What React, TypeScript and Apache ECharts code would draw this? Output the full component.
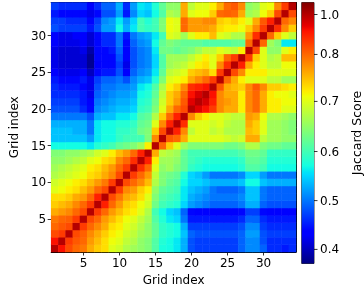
import React, { useEffect, useRef } from "react";
import * as echarts from "echarts";

const gridIndex = ["1","2","3","4","5","6","7","8","9","10","11","12","13","14","15","16","17","18","19","20","21","22","23","24","25","26","27","28","29","30","31","32","33","34"];
const shownTicks = ["5", "10", "15", "20", "25", "30"];
const colorbarTicks = [0.4, 0.5, 0.6, 0.7, 0.8, 1.0];
// colour normalisation (value -> position on bar)
const normValues = [0.371, 0.4, 0.5, 0.6, 0.7, 0.8, 1.0, 1.06];
const normPositions = [0, 0.054, 0.241, 0.429, 0.621, 0.801, 0.954, 1];

// rN = grid row N (bottom = 1), columns 1..34
const r1 = [1.0,0.92,0.84,0.80,0.79,0.76,0.74,0.73,0.70,0.69,0.67,0.66,0.65,0.64,0.61,0.575,0.57,0.56,0.53,0.48,0.47,0.47,0.47,0.47,0.47,0.47,0.49,0.51,0.51,0.49,0.46,0.46,0.45,0.46];
const r2 = [0.92,1.0,0.86,0.82,0.80,0.77,0.75,0.73,0.71,0.70,0.68,0.67,0.65,0.64,0.61,0.58,0.57,0.56,0.53,0.48,0.47,0.47,0.47,0.47,0.47,0.47,0.49,0.51,0.51,0.48,0.46,0.46,0.46,0.46];
const r3 = [0.84,0.86,1.0,0.84,0.81,0.78,0.76,0.74,0.72,0.71,0.69,0.68,0.66,0.65,0.62,0.59,0.58,0.57,0.54,0.49,0.48,0.48,0.48,0.48,0.48,0.48,0.49,0.52,0.52,0.48,0.47,0.47,0.47,0.47];
const r4 = [0.80,0.82,0.84,1.0,0.86,0.80,0.78,0.76,0.73,0.72,0.70,0.69,0.67,0.65,0.62,0.59,0.58,0.57,0.53,0.47,0.47,0.47,0.47,0.47,0.47,0.47,0.48,0.51,0.51,0.47,0.46,0.46,0.46,0.46];
const r5 = [0.79,0.80,0.81,0.86,1.0,0.84,0.80,0.77,0.75,0.73,0.71,0.70,0.68,0.66,0.61,0.58,0.56,0.55,0.50,0.45,0.45,0.45,0.45,0.45,0.45,0.45,0.46,0.49,0.49,0.46,0.45,0.45,0.45,0.45];
const r6 = [0.76,0.77,0.78,0.80,0.84,1.0,0.86,0.80,0.77,0.75,0.73,0.72,0.70,0.67,0.60,0.57,0.55,0.54,0.49,0.44,0.435,0.435,0.435,0.435,0.435,0.435,0.44,0.47,0.47,0.44,0.435,0.435,0.435,0.435];
const r7 = [0.74,0.75,0.76,0.78,0.80,0.86,1.0,0.90,0.80,0.77,0.74,0.73,0.71,0.69,0.63,0.60,0.59,0.58,0.55,0.52,0.51,0.50,0.49,0.49,0.49,0.49,0.50,0.53,0.53,0.49,0.48,0.48,0.48,0.48];
const r8 = [0.73,0.73,0.74,0.76,0.77,0.80,0.90,1.0,0.84,0.79,0.76,0.75,0.73,0.70,0.64,0.61,0.60,0.59,0.56,0.53,0.52,0.51,0.50,0.50,0.50,0.50,0.51,0.54,0.54,0.50,0.49,0.49,0.49,0.49];
const r9 = [0.70,0.71,0.72,0.73,0.75,0.77,0.80,0.84,1.0,0.86,0.78,0.77,0.74,0.72,0.65,0.62,0.61,0.60,0.56,0.54,0.53,0.52,0.50,0.49,0.49,0.49,0.50,0.54,0.54,0.50,0.49,0.49,0.49,0.49];
const r10 = [0.69,0.70,0.71,0.72,0.73,0.75,0.77,0.79,0.86,1.0,0.84,0.80,0.78,0.75,0.67,0.64,0.62,0.61,0.57,0.55,0.55,0.54,0.53,0.53,0.53,0.53,0.54,0.57,0.57,0.54,0.53,0.53,0.53,0.53];
const r11 = [0.67,0.68,0.69,0.70,0.71,0.73,0.74,0.76,0.78,0.84,1.0,0.86,0.80,0.77,0.68,0.64,0.63,0.62,0.58,0.55,0.54,0.52,0.50,0.50,0.50,0.50,0.51,0.55,0.55,0.52,0.50,0.50,0.50,0.50];
const r12 = [0.66,0.67,0.68,0.69,0.70,0.72,0.73,0.75,0.77,0.80,0.86,1.0,0.88,0.80,0.70,0.65,0.66,0.64,0.62,0.59,0.58,0.57,0.57,0.57,0.57,0.57,0.58,0.61,0.61,0.60,0.57,0.57,0.57,0.57];
const r13 = [0.65,0.65,0.66,0.67,0.68,0.70,0.71,0.73,0.74,0.78,0.80,0.88,1.0,0.90,0.72,0.66,0.66,0.65,0.62,0.60,0.59,0.58,0.58,0.58,0.58,0.58,0.59,0.62,0.62,0.61,0.58,0.58,0.58,0.58];
const r14 = [0.64,0.64,0.65,0.65,0.66,0.67,0.69,0.70,0.72,0.75,0.77,0.80,0.90,1.0,0.76,0.68,0.67,0.66,0.62,0.60,0.60,0.60,0.60,0.60,0.60,0.60,0.61,0.63,0.63,0.62,0.59,0.59,0.59,0.59];
const r15 = [0.57,0.57,0.57,0.57,0.57,0.56,0.58,0.59,0.60,0.62,0.63,0.64,0.66,0.72,1.0,0.80,0.74,0.70,0.66,0.64,0.64,0.64,0.64,0.64,0.63,0.63,0.64,0.67,0.67,0.64,0.63,0.63,0.62,0.62];
const r16 = [0.54,0.54,0.54,0.54,0.54,0.52,0.56,0.57,0.57,0.59,0.60,0.60,0.60,0.64,0.78,1.0,0.82,0.80,0.76,0.70,0.70,0.70,0.70,0.70,0.69,0.68,0.69,0.76,0.76,0.68,0.66,0.66,0.65,0.65];
const r17 = [0.54,0.54,0.54,0.53,0.53,0.50,0.56,0.57,0.57,0.59,0.59,0.60,0.63,0.64,0.74,0.84,1.0,0.90,0.78,0.68,0.70,0.70,0.68,0.69,0.67,0.67,0.67,0.75,0.74,0.70,0.66,0.66,0.65,0.64];
const r18 = [0.53,0.53,0.53,0.53,0.53,0.50,0.56,0.57,0.57,0.58,0.58,0.59,0.62,0.63,0.70,0.78,0.90,1.0,0.88,0.70,0.70,0.70,0.69,0.70,0.68,0.67,0.67,0.76,0.74,0.70,0.66,0.66,0.65,0.64];
const r19 = [0.50,0.50,0.50,0.50,0.50,0.48,0.53,0.54,0.54,0.56,0.56,0.57,0.61,0.62,0.67,0.74,0.80,0.90,1.0,0.78,0.74,0.72,0.70,0.70,0.69,0.68,0.68,0.77,0.76,0.71,0.67,0.67,0.66,0.65];
const r20 = [0.48,0.48,0.48,0.48,0.46,0.44,0.51,0.52,0.53,0.54,0.54,0.55,0.59,0.60,0.64,0.70,0.76,0.80,0.84,1.0,0.95,0.92,0.86,0.78,0.76,0.76,0.72,0.78,0.80,0.76,0.72,0.72,0.70,0.70];
const r21 = [0.47,0.47,0.47,0.47,0.45,0.43,0.50,0.51,0.52,0.53,0.53,0.54,0.58,0.59,0.63,0.69,0.74,0.77,0.82,0.95,1.0,0.96,0.90,0.78,0.77,0.76,0.72,0.78,0.80,0.76,0.72,0.72,0.71,0.71];
const r22 = [0.46,0.46,0.46,0.46,0.45,0.42,0.49,0.50,0.51,0.52,0.52,0.53,0.57,0.58,0.62,0.68,0.74,0.76,0.80,0.92,0.96,1.0,0.92,0.78,0.76,0.76,0.72,0.78,0.80,0.76,0.72,0.71,0.71,0.70];
const r23 = [0.46,0.45,0.45,0.45,0.44,0.42,0.48,0.50,0.50,0.51,0.51,0.52,0.56,0.57,0.61,0.67,0.72,0.74,0.78,0.88,0.90,0.92,1.0,0.82,0.76,0.75,0.74,0.78,0.82,0.78,0.74,0.74,0.73,0.72];
const r24 = [0.45,0.44,0.44,0.44,0.45,0.42,0.47,0.49,0.49,0.50,0.48,0.51,0.53,0.54,0.58,0.64,0.70,0.71,0.72,0.76,0.78,0.80,0.86,1.0,0.80,0.76,0.72,0.70,0.70,0.70,0.68,0.68,0.66,0.66];
const r25 = [0.43,0.42,0.42,0.42,0.43,0.40,0.44,0.45,0.45,0.48,0.43,0.49,0.51,0.52,0.56,0.62,0.68,0.69,0.70,0.74,0.75,0.76,0.73,0.86,1.0,0.84,0.78,0.72,0.72,0.72,0.70,0.70,0.70,0.70];
const r26 = [0.42,0.41,0.41,0.41,0.41,0.38,0.43,0.44,0.44,0.47,0.42,0.48,0.50,0.51,0.55,0.61,0.66,0.67,0.68,0.70,0.72,0.73,0.70,0.78,0.88,1.0,0.90,0.76,0.72,0.70,0.68,0.68,0.71,0.71];
const r27 = [0.42,0.41,0.41,0.41,0.41,0.38,0.44,0.44,0.44,0.48,0.43,0.48,0.50,0.51,0.55,0.61,0.66,0.66,0.66,0.68,0.70,0.72,0.70,0.74,0.80,0.86,1.0,0.86,0.74,0.70,0.67,0.68,0.75,0.75];
const r28 = [0.42,0.41,0.41,0.41,0.42,0.39,0.44,0.44,0.45,0.49,0.43,0.48,0.50,0.51,0.56,0.63,0.63,0.62,0.63,0.64,0.66,0.68,0.68,0.70,0.69,0.68,0.72,1.0,0.84,0.70,0.65,0.65,0.70,0.72];
const r29 = [0.43,0.42,0.42,0.42,0.43,0.41,0.44,0.46,0.46,0.50,0.44,0.49,0.51,0.52,0.57,0.62,0.64,0.63,0.62,0.62,0.62,0.61,0.61,0.61,0.61,0.62,0.62,0.80,1.0,0.80,0.66,0.64,0.56,0.56];
const r30 = [0.43,0.42,0.42,0.43,0.43,0.41,0.44,0.46,0.46,0.50,0.45,0.50,0.52,0.53,0.56,0.60,0.70,0.69,0.66,0.70,0.72,0.72,0.75,0.70,0.69,0.67,0.67,0.77,0.88,1.0,0.80,0.74,0.70,0.68];
const r31 = [0.48,0.47,0.47,0.47,0.47,0.45,0.48,0.52,0.52,0.57,0.53,0.56,0.60,0.59,0.60,0.64,0.71,0.70,0.80,0.77,0.77,0.77,0.76,0.73,0.72,0.72,0.71,0.74,0.78,0.86,1.0,0.88,0.78,0.74];
const r32 = [0.47,0.47,0.46,0.46,0.46,0.44,0.47,0.51,0.52,0.56,0.52,0.55,0.60,0.58,0.60,0.64,0.71,0.70,0.80,0.77,0.77,0.78,0.78,0.74,0.73,0.74,0.72,0.70,0.76,0.82,0.90,1.0,0.80,0.78];
const r33 = [0.45,0.44,0.44,0.44,0.44,0.42,0.44,0.48,0.48,0.52,0.45,0.51,0.55,0.54,0.57,0.61,0.67,0.66,0.76,0.70,0.71,0.71,0.74,0.80,0.81,0.80,0.76,0.66,0.67,0.71,0.74,0.84,1.0,0.84];
const r34 = [0.47,0.46,0.46,0.46,0.46,0.43,0.46,0.49,0.49,0.53,0.46,0.52,0.56,0.55,0.58,0.62,0.65,0.65,0.76,0.68,0.70,0.70,0.72,0.76,0.80,0.82,0.78,0.65,0.66,0.70,0.71,0.78,0.86,1.0];

const rows = [r1,r2,r3,r4,r5,r6,r7,r8,r9,r10,r11,r12,r13,r14,r15,r16,r17,r18,r19,r20,r21,r22,r23,r24,r25,r26,r27,r28,r29,r30,r31,r32,r33,r34];

// matplotlib "jet" segment data
const JET_R = [[0, 0], [0.35, 0], [0.66, 1], [0.89, 1], [1, 0.5]];
const JET_G = [[0, 0], [0.125, 0], [0.375, 1], [0.64, 1], [0.91, 0], [1, 0]];
const JET_B = [[0, 0.5], [0.11, 1], [0.34, 1], [0.65, 0], [1, 0]];

function seg(p: number[][], t: number) {
  if (t <= p[0][0]) return p[0][1];
  for (let k = 1; k < p.length; k++) {
    if (t <= p[k][0]) {
      const a = p[k - 1], b = p[k];
      return a[1] + ((t - a[0]) / (b[0] - a[0])) * (b[1] - a[1]);
    }
  }
  return p[p.length - 1][1];
}
function jet(t: number) {
  const c = (x: number) => Math.round(Math.max(0, Math.min(1, x)) * 255);
  return `rgb(${c(seg(JET_R, t))},${c(seg(JET_G, t))},${c(seg(JET_B, t))})`;
}
function norm(v: number) {
  if (v <= normValues[0]) return 0;
  for (let k = 1; k < normValues.length; k++) {
    if (v <= normValues[k]) {
      const a = normValues[k - 1], b = normValues[k];
      return normPositions[k - 1] + ((v - a) / (b - a)) * (normPositions[k] - normPositions[k - 1]);
    }
  }
  return 1;
}

const FONT = "DejaVu Sans";

export default function App() {
  const ref = useRef<HTMLDivElement>(null);
  useEffect(() => {
    if (!ref.current) return;
    const chart = echarts.init(ref.current, undefined, { renderer: "svg" });
    const vmin = normValues[0];
    const vmax = normValues[normValues.length - 1];
    const N = 300;
    const cmap: string[] = [];
    for (let k = 0; k <= N; k++) cmap.push(jet(norm(vmin + ((vmax - vmin) * k) / N)));

    const data: number[][] = [];
    rows.forEach((row, yi) => row.forEach((v, xi) => data.push([xi, yi, v])));

    const stopsAt = [0, 0.11, 0.125, 0.34, 0.35, 0.375, 0.5, 0.64, 0.65, 0.66, 0.89, 0.91, 1];
    const gradStops = stopsAt.map((o) => ({ offset: o, color: jet(o) }));

    const showTick = (_i: number, val: string) => shownTicks.indexOf(val) >= 0;
    const catAxisCommon = {
      type: "category",
      data: gridIndex,
      axisLine: { show: true, lineStyle: { color: "#000", width: 1 } },
      axisTick: { show: true, alignWithLabel: true, interval: showTick, length: 3.5, lineStyle: { color: "#000", width: 0.8 } },
      axisLabel: { show: true, interval: showTick, color: "#000", fontSize: 12, fontFamily: FONT, margin: 5 },
      splitLine: { show: false },
      name: "Grid index",
      nameLocation: "middle",
      nameTextStyle: { color: "#000", fontSize: 12, fontFamily: FONT },
    };
    const frameAxis = {
      type: "category",
      data: gridIndex,
      axisLine: { show: true, lineStyle: { color: "#000", width: 1 } },
      axisTick: { show: false },
      axisLabel: { show: false },
      splitLine: { show: false },
    };

    chart.setOption({
      animation: false,
      grid: [
        { left: 33.3, top: 2.5, width: 262.7, height: 261.5, containLabel: false },
        { left: 301.7, top: 2.5, width: 14, height: 261, show: true, borderColor: "#000", borderWidth: 0.8, containLabel: false },
      ],
      xAxis: [
        { ...catAxisCommon, gridIndex: 0, position: "bottom", nameGap: 22 },
        { type: "value", gridIndex: 1, min: 0, max: 1, show: false },
        { ...frameAxis, gridIndex: 0, position: "top" },
      ],
      yAxis: [
        { ...catAxisCommon, gridIndex: 0, position: "left", nameGap: 20 },
        {
          type: "value", gridIndex: 1, min: 0, max: 1, position: "right",
          axisLine: { show: false }, axisTick: { show: false }, axisLabel: { show: false }, splitLine: { show: false },
          name: "Jaccard Score", nameLocation: "middle", nameGap: 36,
          nameTextStyle: { color: "#000", fontSize: 12.5, fontFamily: FONT },
        },
        { ...frameAxis, gridIndex: 0, position: "right" },
      ],
      visualMap: {
        show: false,
        type: "continuous",
        seriesIndex: 0,
        dimension: 2,
        min: vmin,
        max: vmax,
        inRange: { color: cmap },
      },
      series: [
        {
          type: "heatmap",
          xAxisIndex: 0,
          yAxisIndex: 0,
          data,
          progressive: 0,
          itemStyle: { borderWidth: 0 },
          emphasis: { disabled: true },
        },
        {
          type: "custom",
          xAxisIndex: 1,
          yAxisIndex: 1,
          data: [[0]],
          silent: true,
          renderItem: (_p: any, api: any) => {
            const tl = api.coord([0, 1]);
            const br = api.coord([1, 0]);
            return {
              type: "rect",
              shape: { x: tl[0], y: tl[1], width: br[0] - tl[0], height: br[1] - tl[1] },
              style: { fill: new echarts.graphic.LinearGradient(0, 1, 0, 0, gradStops), stroke: null },
            };
          },
        },
        {
          type: "custom",
          xAxisIndex: 1,
          yAxisIndex: 1,
          data: colorbarTicks.map((v) => [v]),
          silent: true,
          z: 5,
          renderItem: (_p: any, api: any) => {
            const v = api.value(0);
            const p = api.coord([1, norm(v)]);
            return {
              type: "group",
              children: [
                { type: "line", shape: { x1: p[0], y1: p[1], x2: p[0] + 3.5, y2: p[1] }, style: { stroke: "#000", lineWidth: 0.8 } },
                {
                  type: "text",
                  x: p[0] + 6,
                  y: p[1],
                  style: { text: v.toFixed(1), fill: "#000", fontSize: 12, fontFamily: FONT, align: "left", verticalAlign: "middle" },
                },
              ],
            };
          },
        },
      ],
    });
    return () => chart.dispose();
  }, []);
  return <div ref={ref} style={{ position: "fixed", left: 0, top: 0, width: 364, height: 291 }} />;
}
